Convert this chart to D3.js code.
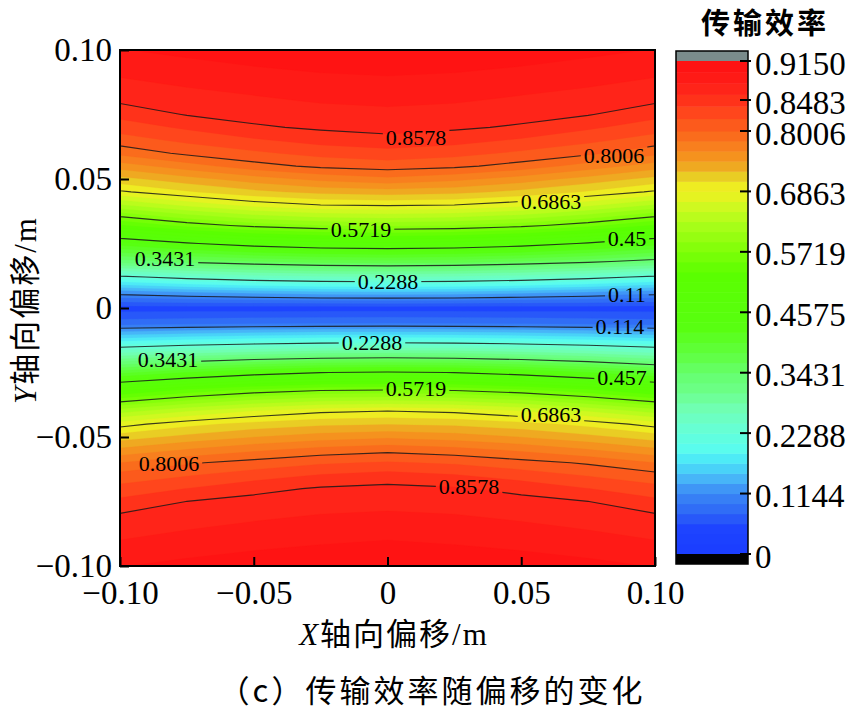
<!DOCTYPE html>
<html><head><meta charset="utf-8">
<script src="https://cdn.jsdelivr.net/npm/d3@7"></script>
<style>body{margin:0;background:#fff}svg{display:block}</style>
</head><body>
<svg id="c" width="856" height="711"></svg>
<script>
// ---------------- data ----------------
const xGrid = [-0.1, -0.075, -0.05, -0.025, 0, 0.025, 0.05, 0.075, 0.1];
const yGrid = [0.1, 0.09, 0.085, 0.08, 0.075, 0.07, 0.065, 0.06, 0.055, 0.05, 0.045, 0.04, 0.032, 0.025, 0.018, 0.012, 0.006, 0,
               -0.006, -0.012, -0.018, -0.025, -0.032, -0.04, -0.045, -0.05, -0.055, -0.06, -0.065, -0.07, -0.075, -0.08, -0.085, -0.09, -0.1];
// transfer efficiency (rows = yGrid, cols = xGrid)
const efficiency = [
  [0.895,0.901,0.906,0.910,0.912,0.910,0.906,0.901,0.895],
  [0.878,0.884,0.890,0.894,0.896,0.894,0.890,0.884,0.878],
  [0.869,0.876,0.881,0.886,0.888,0.886,0.881,0.876,0.869],
  [0.860,0.867,0.873,0.878,0.880,0.878,0.873,0.867,0.860],
  [0.845,0.859,0.865,0.869,0.872,0.869,0.865,0.859,0.845],
  [0.828,0.842,0.855,0.861,0.864,0.861,0.855,0.842,0.828],
  [0.811,0.824,0.836,0.846,0.852,0.846,0.836,0.824,0.811],
  [0.787,0.805,0.816,0.826,0.831,0.826,0.816,0.805,0.787],
  [0.753,0.773,0.793,0.805,0.810,0.805,0.793,0.773,0.753],
  [0.718,0.736,0.753,0.768,0.777,0.768,0.753,0.736,0.718],
  [0.683,0.703,0.719,0.730,0.734,0.730,0.719,0.703,0.683],
  [0.628,0.654,0.675,0.687,0.690,0.687,0.675,0.654,0.628],
  [0.530,0.559,0.579,0.590,0.594,0.590,0.579,0.559,0.530],
  [0.429,0.454,0.474,0.486,0.491,0.486,0.474,0.454,0.429],
  [0.332,0.349,0.361,0.370,0.373,0.370,0.361,0.349,0.332],
  [0.222,0.240,0.254,0.262,0.265,0.262,0.254,0.240,0.222],
  [0.120,0.130,0.138,0.144,0.146,0.144,0.138,0.130,0.120],
  [0.048,0.048,0.047,0.047,0.047,0.047,0.047,0.048,0.048],
  [0.087,0.090,0.093,0.095,0.096,0.095,0.093,0.090,0.087],
  [0.175,0.185,0.193,0.198,0.200,0.198,0.193,0.185,0.175],
  [0.276,0.292,0.304,0.313,0.316,0.313,0.304,0.292,0.276],
  [0.393,0.420,0.442,0.457,0.461,0.457,0.442,0.420,0.393],
  [0.512,0.540,0.560,0.572,0.575,0.572,0.560,0.540,0.512],
  [0.621,0.647,0.668,0.682,0.687,0.682,0.668,0.647,0.621],
  [0.678,0.699,0.712,0.720,0.723,0.720,0.712,0.699,0.678],
  [0.715,0.730,0.743,0.753,0.759,0.753,0.743,0.730,0.715],
  [0.748,0.764,0.778,0.789,0.795,0.789,0.778,0.764,0.748],
  [0.782,0.798,0.808,0.817,0.822,0.817,0.808,0.798,0.782],
  [0.808,0.819,0.830,0.841,0.847,0.841,0.830,0.819,0.808],
  [0.826,0.839,0.852,0.860,0.863,0.860,0.852,0.839,0.826],
  [0.844,0.858,0.864,0.869,0.871,0.869,0.864,0.858,0.844],
  [0.859,0.867,0.872,0.877,0.879,0.877,0.872,0.867,0.859],
  [0.868,0.875,0.881,0.885,0.887,0.885,0.881,0.875,0.868],
  [0.877,0.884,0.889,0.893,0.896,0.893,0.889,0.884,0.877],
  [0.895,0.901,0.906,0.910,0.912,0.910,0.906,0.901,0.895]
];
const bandCount = 48;
const valueMax = 0.915;
const cmapValues = [0,0.05,0.07,0.09,0.115,0.135,0.155,0.175,0.195,0.235,0.275,0.31,0.34,0.375,0.43,0.53,0.575,0.62,0.655,0.685,0.705,0.718,0.737,0.756,0.775,0.793,0.81,0.826,0.84,0.857,0.873,0.9,0.915];
const cmapColors = ["#1a3cff","#1e44ff","#2a5cf8","#3272f5","#3a88f5","#46a8f8","#48c8f8","#4ae4f8","#58fcf0","#66ffd6","#70ffb4","#6cff88","#66ff70","#60ff44","#58ff10","#5aff00","#80ff08","#a6fe18","#ccfa20","#eef022","#eee822","#e8c424","#f0a420","#f68e1e","#f87c1e","#fa6a1c","#fc5a1c","#ff4a1c","#ff3a1a","#ff2a1a","#ff2018","#ff1414","#ff1212"];
const lineLevels = [0.11, 0.114, 0.2288, 0.3431, 0.4575, 0.5719, 0.6863, 0.8006, 0.8578];
const lineHalf   = ["top","bottom","both","both","both","both","both","both","both"];
const labelText = ["0.8578","0.8006","0.6863","0.5719","0.45","0.3431","0.2288","0.11","0.114","0.2288","0.3431","0.457","0.5719","0.6863","0.8006","0.8578"];
const labelX = [0.0107,0.0847,0.0611,-0.0099,0.0895,-0.0832,0.0002,0.0895,0.0869,-0.0058,-0.0821,0.0877,0.0107,0.0611,-0.0817,0.0305];
const labelY = [0.0663,0.0593,0.0415,0.0306,0.0271,0.0194,0.0105,0.0054,-0.0070,-0.0132,-0.0198,-0.0267,-0.0310,-0.0411,-0.0601,-0.0690];
const xTicks = [-0.1,-0.05,0,0.05,0.1];
const yTicks = [-0.1,-0.05,0,0.05,0.1];
const cbTicks = [0,0.1144,0.2288,0.3431,0.4575,0.5719,0.6863,0.8006,0.8483,0.9150];

// ---------------- setup ----------------
const svg = d3.select("#c");
const W = 856, H = 711;
const serif = "'Liberation Serif','Times New Roman',serif";
const cjk = "'Noto Sans CJK SC','Noto Sans',sans-serif";
const xScale = d3.scaleLinear().domain([-0.1,0.1]).range([120,655]);
const yScale = d3.scaleLinear().domain([-0.1,0.1]).range([566,50]);
const cmap = d3.scaleLinear().domain(cmapValues).range(cmapColors).clamp(true);
const step = valueMax / bandCount;
const thresholds = d3.range(bandCount).map(i => i * step);

const defs = svg.append("defs");
defs.append("clipPath").attr("id","plotclip").append("rect")
  .attr("x",xScale(-0.1)).attr("y",yScale(0.1))
  .attr("width",xScale(0.1)-xScale(-0.1)).attr("height",yScale(-0.1)-yScale(0.1));
defs.append("clipPath").attr("id","topclip").append("rect")
  .attr("x",xScale(-0.1)).attr("y",yScale(0.1))
  .attr("width",xScale(0.1)-xScale(-0.1)).attr("height",yScale(-0.0012)-yScale(0.1));
defs.append("clipPath").attr("id","botclip").append("rect")
  .attr("x",xScale(-0.1)).attr("y",yScale(-0.0012))
  .attr("width",xScale(0.1)-xScale(-0.1)).attr("height",yScale(-0.1)-yScale(-0.0012));
const mask = defs.append("mask").attr("id","lblmask").attr("maskUnits","userSpaceOnUse")
  .attr("x",0).attr("y",0).attr("width",W).attr("height",H);
mask.append("rect").attr("width",W).attr("height",H).attr("fill","white");

// grid index -> data coordinate
const nC = xGrid.length, nR = yGrid.length;
const colIdx = d3.scaleLinear().domain(d3.range(nC)).range(xGrid).clamp(true);
const rowIdx = d3.scaleLinear().domain(d3.range(nR)).range(yGrid).clamp(true);
const proj = d3.geoTransform({point(x, y){
  this.stream.point(xScale(colIdx(x - 0.5)), yScale(rowIdx(y - 0.5)));
}});
const path = d3.geoPath(proj);
const flat = efficiency.flat();

// ---------------- filled contours ----------------
const plot = svg.append("g").attr("clip-path","url(#plotclip)");
const bands = d3.contours().size([nC, nR]).thresholds(thresholds)(flat);
plot.selectAll("path.band").data(bands).join("path")
  .attr("class","band")
  .attr("d", path)
  .attr("fill", d => cmap(d.value + step/2))
  .attr("stroke", d => cmap(d.value + step/2))
  .attr("stroke-width", 0.3);

// ---------------- contour lines ----------------
const linesG = plot.append("g").attr("mask","url(#lblmask)");
lineLevels.forEach((lv, i) => {
  const c = d3.contours().size([nC, nR]).thresholds([lv])(flat)[0];
  const g = linesG.append("g");
  if (lineHalf[i] === "top") g.attr("clip-path","url(#topclip)");
  if (lineHalf[i] === "bottom") g.attr("clip-path","url(#botclip)");
  g.append("path").attr("d", path(c)).attr("fill","none")
    .attr("stroke","#1a1a1a").attr("stroke-opacity",0.85).attr("stroke-width",1.1);
});

// ---------------- contour labels ----------------
const lblG = svg.append("g").attr("font-family",serif).attr("font-size",22).attr("fill","#000");
labelText.forEach((t, i) => {
  const txt = lblG.append("text")
    .attr("x", xScale(labelX[i])).attr("y", yScale(labelY[i]))
    .attr("text-anchor","middle").attr("dy","0.35em").text(t);
  const b = txt.node().getBBox();
  const left = labelX[i] < -0.07 ? xScale(-0.1) : b.x - 3;
  mask.append("rect").attr("x",left).attr("y",b.y+2).attr("width",b.x + b.width + 3 - left).attr("height",b.height-4).attr("fill","black");
});

// ---------------- plot frame & axes ----------------
const fmt = d => d === 0 ? "0" : (d < 0 ? "\u2212" : "") + Math.abs(d).toFixed(2);
const gx = svg.append("g").attr("transform",`translate(0,${yScale(-0.1)})`)
  .call(d3.axisBottom(xScale).tickValues(xTicks).tickSize(-9).tickSizeOuter(0).tickFormat(fmt));
gx.select(".domain").remove();
gx.selectAll(".tick line").attr("stroke","#000").attr("stroke-width",2);
gx.selectAll(".tick text").attr("y",15).attr("dy","0.71em")
  .attr("font-family",serif).attr("font-size",33).attr("fill","#000");

const gy = svg.append("g").attr("transform",`translate(${xScale(-0.1)},0)`)
  .call(d3.axisLeft(yScale).tickValues(yTicks).tickSize(-9).tickSizeOuter(0).tickFormat(fmt));
gy.select(".domain").remove();
gy.selectAll(".tick line").attr("stroke","#000").attr("stroke-width",2);
gy.selectAll(".tick text").attr("x",-8).attr("dy","0.33em")
  .attr("font-family",serif).attr("font-size",33).attr("fill","#000");

svg.append("rect").attr("x",xScale(-0.1)).attr("y",yScale(0.1))
  .attr("width",xScale(0.1)-xScale(-0.1)).attr("height",yScale(-0.1)-yScale(0.1))
  .attr("fill","none").attr("stroke","#000").attr("stroke-width",2);

// axis titles
const xt = svg.append("text").attr("x",394).attr("y",645).attr("text-anchor","middle")
  .attr("font-size",31).attr("letter-spacing",2).attr("fill","#000");
xt.append("tspan").attr("font-family",serif).attr("font-style","italic").text("X");
xt.append("tspan").attr("font-family",cjk).text("轴向偏移");
xt.append("tspan").attr("font-family",serif).text("/m");

const yt = svg.append("text").attr("transform","translate(36,310) rotate(-90)").attr("text-anchor","middle")
  .attr("font-size",31).attr("letter-spacing",2).attr("fill","#000");
yt.append("tspan").attr("font-family",serif).attr("font-style","italic").text("Y");
yt.append("tspan").attr("font-family",cjk).text("轴向偏移");
yt.append("tspan").attr("font-family",serif).text("/m");

svg.append("text").attr("x",432).attr("y",702).attr("text-anchor","middle")
  .attr("font-family",cjk).attr("font-size",31).attr("letter-spacing",3).attr("fill","#000")
  .text("（c）传输效率随偏移的变化");

// ---------------- colorbar ----------------
const cbX = 676, cbW = 72;
const cbScale = d3.scaleLinear().domain([0,0.8006,0.8483,0.915]).range([554,131,100,61]);
const cb = svg.append("g");
cb.selectAll("rect.cb").data(thresholds).join("rect").attr("class","cb")
  .attr("x",cbX).attr("width",cbW)
  .attr("y", d => cbScale(Math.min(d + step, valueMax)))
  .attr("height", d => cbScale(d) - cbScale(Math.min(d + step, valueMax)) + 0.5)
  .attr("fill", d => cmap(d + step/2));
cb.append("rect").attr("x",cbX).attr("width",cbW).attr("y",51).attr("height",cbScale(valueMax)-51).attr("fill","#7a8b8b");
cb.append("rect").attr("x",cbX).attr("width",cbW).attr("y",cbScale(0)).attr("height",10).attr("fill","#000");
cb.append("rect").attr("x",cbX).attr("width",cbW).attr("y",51).attr("height",564-51)
  .attr("fill","none").attr("stroke","#000").attr("stroke-width",1.5);
cb.selectAll("line.cbt").data(cbTicks).join("line").attr("class","cbt")
  .attr("x1",cbX+cbW-8).attr("x2",cbX+cbW+3)
  .attr("y1",d=>cbScale(d)).attr("y2",d=>cbScale(d))
  .attr("stroke","#000").attr("stroke-width",2);
cb.selectAll("text.cbl").data(cbTicks).join("text").attr("class","cbl")
  .attr("x",cbX+cbW+7).attr("y",d=>cbScale(d)+2).attr("dy","0.35em")
  .attr("font-family",serif).attr("font-size",33).attr("fill","#000")
  .text(d => d === 0 ? "0" : d.toFixed(4));
svg.append("text").attr("x",765).attr("y",34).attr("text-anchor","middle")
  .attr("font-family",cjk).attr("font-weight","bold").attr("font-size",29).attr("letter-spacing",3).attr("fill","#000")
  .text("传输效率");
</script>
</body></html>
